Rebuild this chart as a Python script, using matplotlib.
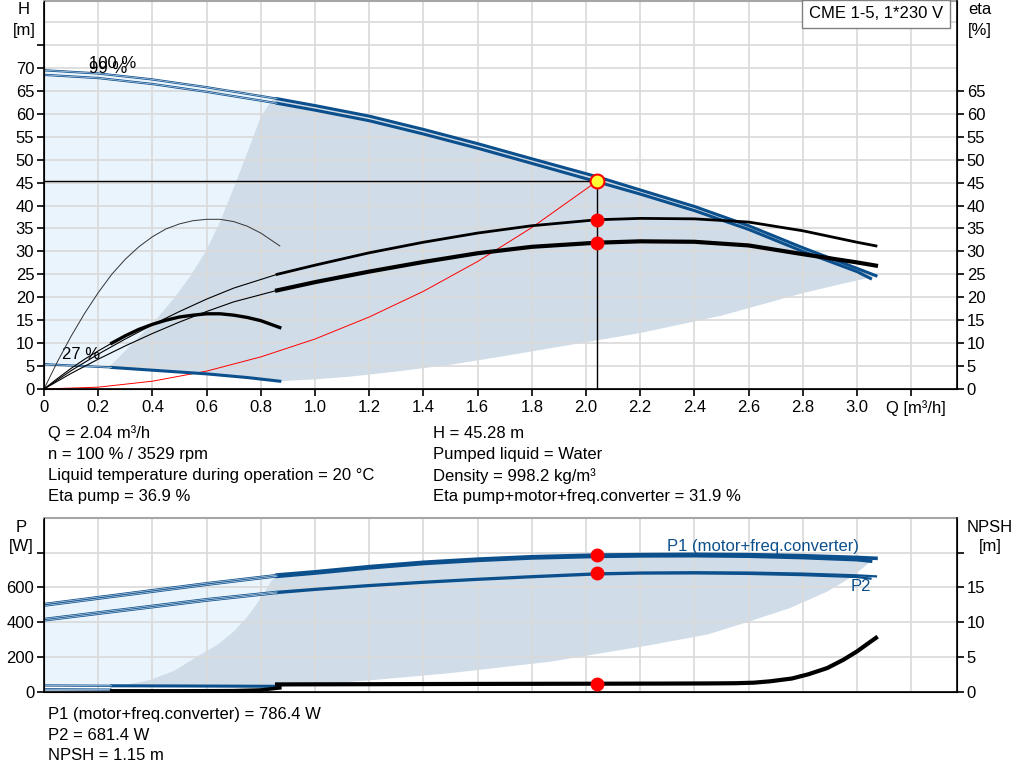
import matplotlib
matplotlib.use('Agg')
import matplotlib.pyplot as plt
import numpy as np

plt.rcParams['font.family'] = ['Liberation Sans', 'DejaVu Sans']
plt.rcParams['font.size'] = 12

# ---------------- data ----------------
# head curves, Q in m3/h, H in m
q_h = [0, 0.2, 0.4, 0.6, 0.86, 1.0, 1.2, 1.4, 1.6, 1.8, 2.04, 2.2, 2.4, 2.6, 2.8, 3.0, 3.07]
h_100 = [69.5, 68.8, 67.5, 65.8, 63.3, 61.8, 59.5, 56.6, 53.5, 50.2, 46.3, 43.4, 39.8, 35.6, 30.8, 26.3, 24.7]
h_99 = [68.5, 67.8, 66.5, 64.8, 62.3, 60.8, 58.5, 55.6, 52.5, 49.2, 45.2, 42.5, 38.9, 34.8, 30.0, 25.6, 24.1]
q_h27 = [0, 0.25, 0.4, 0.6, 0.75, 0.87]
h_27 = [5.4, 4.7, 4.1, 3.3, 2.5, 1.7]

# efficiency curves, %
q_eta = [0, 0.1, 0.2, 0.3, 0.4, 0.5, 0.6, 0.7, 0.86, 1.0, 1.2, 1.4, 1.6, 1.8, 2.04,
         2.2, 2.4, 2.6, 2.8, 3.0, 3.07]
eta_pump = [0, 4.0, 7.6, 10.9, 14.0, 16.9, 19.6, 22.0, 25.0, 27.0, 29.7, 32.0, 34.0, 35.6,
            36.9, 37.2, 37.1, 36.4, 34.5, 32.0, 31.2]
eta_total = [0, 3.4, 6.5, 9.4, 12.1, 14.6, 16.9, 19.0, 21.5, 23.3, 25.6, 27.7, 29.6, 31.0,
             31.9, 32.2, 32.1, 31.3, 29.4, 27.6, 26.9]
q_e27 = [0, 0.05, 0.1, 0.15, 0.2, 0.25, 0.3, 0.35, 0.4, 0.45, 0.5, 0.55, 0.6, 0.65, 0.7,
         0.75, 0.8, 0.87]
eta_pump_27 = [0, 6.0, 11.5, 16.5, 21.0, 25.0, 28.3, 31.0, 33.2, 34.9, 36.0, 36.7, 37.0,
               37.0, 36.5, 35.5, 34.0, 31.2]
q_et27 = [0, 0.05, 0.1, 0.15, 0.2, 0.25, 0.3, 0.35, 0.4, 0.45, 0.5, 0.55, 0.6, 0.65, 0.7,
          0.75, 0.8, 0.87]
eta_total_27 = [0, 2.3, 4.5, 6.5, 8.3, 10.0, 11.6, 13.0, 14.1, 15.0, 15.7, 16.1, 16.4, 16.4,
                16.1, 15.6, 14.9, 13.4]

# system curve
q_sys = [0, 0.2, 0.4, 0.6, 0.8, 1.0, 1.2, 1.4, 1.6, 1.8, 2.04]
h_sys = [0, 0.4, 1.7, 3.9, 7.0, 10.9, 15.7, 21.3, 27.8, 35.2, 45.28]

# operating range edges (head chart)
q_edge_left = [0.243, 0.30, 0.354, 0.416, 0.477, 0.54, 0.60, 0.65, 0.70, 0.75, 0.80, 0.845]
h_edge_left = [4.9, 8.3, 11.6, 15.3, 19.6, 24.6, 30.3, 36.5, 43.8, 51.5, 59.3, 63.4]
q_edge_low = [0.87, 1.0, 1.13, 1.3, 1.5, 1.68, 1.9, 2.2, 2.5, 2.8, 2.95, 3.05]
h_edge_low = [1.7, 2.1, 2.7, 3.8, 5.3, 7.0, 9.2, 12.2, 16.0, 20.9, 23.0, 24.3]

# power curves, W
p1_100 = [505, 545, 585, 625, 672, 690, 720, 745, 763, 777, 786.4, 789, 791, 789, 783, 773, 768]
p1_99 = [495, 535, 575, 615, 664, 683, 713, 738, 756, 770, 779, 782, 783, 780, 772, 760, 752]
p2_100 = [419, 457, 495, 533, 575, 592, 614, 633, 650, 665, 681.4, 686, 688, 686, 680, 670, 664]
p2_99 = [410, 448, 486, 524, 568, 586, 608, 627, 644, 659, 675, 680, 681, 678, 671, 660, 651]
q_p27 = [0, 0.25, 0.5, 0.87]
p1_27 = [36, 34, 33, 31]
p2_27 = [14, 12, 10, 8]

q_p_left = [0.243, 0.30, 0.39, 0.48, 0.576, 0.64, 0.70, 0.75, 0.80, 0.84, 0.86]
p_edge_left = [29, 38, 67, 120, 212, 270, 346, 430, 538, 640, 672]
q_p_low = [0.88, 1.2, 1.5, 1.87, 2.24, 2.45, 2.6, 2.75, 2.89, 2.98, 3.05]
p_edge_low = [29, 65, 107, 173, 269, 330, 403, 480, 576, 660, 748]

# NPSH, m
q_npsh = [0.86, 1.2, 1.6, 2.04, 2.3, 2.45, 2.55, 2.62, 2.68, 2.76, 2.82, 2.89, 2.95, 3.0,
          3.05, 3.07]
npsh = [1.05, 1.08, 1.12, 1.15, 1.17, 1.19, 1.22, 1.3, 1.5, 1.9, 2.5, 3.4, 4.6, 5.8, 7.2, 7.75]
q_npsh27 = [0.25, 0.5, 0.7, 0.8, 0.87]
npsh_27 = [0.12, 0.12, 0.15, 0.25, 0.55]

# duty point
q_op, h_op = 2.04, 45.28
eta_op_pump, eta_op_total = 36.9, 31.9
p1_op, p2_op, npsh_op = 786.4, 681.4, 1.15

x_ticks = [0, 0.2, 0.4, 0.6, 0.8, 1.0, 1.2, 1.4, 1.6, 1.8, 2.0, 2.2, 2.4, 2.6, 2.8, 3.0, 3.2]
x_labels = ['0', '0.2', '0.4', '0.6', '0.8', '1.0', '1.2', '1.4', '1.6', '1.8', '2.0',
            '2.2', '2.4', '2.6', '2.8', '3.0', '']

# ---------------- styling ----------------
BLUE = '#0b4f8c'
THIN_IN = '#c5d6e8'
LIGHT = '#eaf4fd'
DARK = '#d0dce8'
GRID = '#d9d9d9'
k = 4   # index of Q = 0.86 in q_h
ke = 8  # index of Q = 0.86 in q_eta
ke27 = 5  # index of Q = 0.25 in q_et27

fig = plt.figure(figsize=(10.24, 7.81), dpi=100)
ax = fig.add_axes([44 / 1024, 1 - 389 / 781, 913 / 1024, 388 / 781])
axe = ax.twinx()
bx = fig.add_axes([44 / 1024, 1 - 691.7 / 781, 913 / 1024, 173.7 / 781])
bxn = bx.twinx()

xmax = 3.369


def style(a, ar):
    a.set_xlim(0, xmax)
    a.set_xticks(x_ticks)
    a.grid(True, color=GRID, lw=1.2)
    for s in ['left', 'bottom']:
        a.spines[s].set_linewidth(1.2)
    ar.spines['right'].set_linewidth(1.2)
    a.spines['top'].set_color('#a6a6a6')
    a.spines['top'].set_linewidth(1.5)
    ar.spines['top'].set_visible(False)
    a.tick_params(axis='y', direction='out', length=5, width=1.2, labelsize=12, pad=2)
    ar.tick_params(axis='y', direction='out', length=5, width=1.2, labelsize=12, pad=2)


def thin(a, x, y):
    a.plot(x, y, color=BLUE, lw=1.6, solid_capstyle='butt', zorder=3)
    a.plot(x, y, color=THIN_IN, lw=0.5, zorder=3.1)


# ---------------- head / efficiency chart ----------------
style(ax, axe)
ylim_top = 84.6
ax.set_ylim(0, ylim_top)
axe.set_ylim(0, ylim_top)
ax.set_yticks(range(0, 80, 5))
ax.set_yticklabels([str(v) for v in range(0, 75, 5)] + [''])
axe.set_yticks(range(0, 70, 5))
ax.axhline(80, color=GRID, lw=1.2, zorder=1.5)
ax.set_xticklabels(x_labels)
ax.tick_params(axis='x', direction='out', length=5, width=1.2, labelsize=12, pad=3)

# operating areas
lx = np.concatenate([q_h[:k + 1], q_h27[::-1]])
ly = np.concatenate([h_100[:k + 1], h_27[::-1]])
ax.fill(lx, ly, color=LIGHT, lw=0, zorder=0.8)
dx = np.concatenate([q_edge_left, q_h[k:], q_edge_low[::-1], q_h27[1:][::-1]])
dy = np.concatenate([h_edge_left, h_100[k:], h_edge_low[::-1], h_27[1:][::-1]])
ax.fill(dx, dy, color=DARK, lw=0, zorder=0.9)

# head curves
q_h99 = q_h[:-1] + [3.05]
thin(ax, q_h[:k + 1], h_100[:k + 1])
thin(ax, q_h99[:k + 1], h_99[:k + 1])
ax.plot(q_h[k:], h_100[k:], color=BLUE, lw=2.2, zorder=3)
ax.plot(q_h99[k:], h_99[k:], color=BLUE, lw=2.2, zorder=3)
thin(ax, q_h27[:2], h_27[:2])
ax.plot(q_h27[1:], h_27[1:], color=BLUE, lw=2.2, zorder=3)

# efficiency curves
axe.plot(q_e27, eta_pump_27, color='#333333', lw=0.7)
axe.plot(q_et27[:ke27 + 1], eta_total_27[:ke27 + 1], color='black', lw=0.8)
axe.plot(q_et27[ke27:], eta_total_27[ke27:], color='black', lw=2.4)
axe.plot(q_eta[:ke + 1], eta_pump[:ke + 1], color='black', lw=0.8)
axe.plot(q_eta[ke:], eta_pump[ke:], color='black', lw=2.0)
axe.plot(q_eta[:ke + 1], eta_total[:ke + 1], color='black', lw=0.8)
axe.plot(q_eta[ke:], eta_total[ke:], color='black', lw=3.0)

# system curve and duty point
ax.plot(q_sys, h_sys, color='red', lw=0.7, zorder=2.5)
ax.plot([0, q_op], [h_op, h_op], color='black', lw=1.0, zorder=4)
ax.plot([q_op, q_op], [0, h_op], color='black', lw=1.0, zorder=4)
axe.plot([q_op, q_op], [eta_op_pump, eta_op_total], 'o', color='red', ms=9, zorder=5)
ax.plot(q_op, h_op, 'o', mfc='#ffff33', mec='red', mew=1.5, ms=10, zorder=6)

ax.text(0.165, 70.9, '100 %', ha='left', va='center', zorder=7)
ax.text(0.165, 69.8, '99 %', ha='left', va='center', zorder=7)
ax.text(0.065, 7.6, '27 %', ha='left', va='center', zorder=7)

fig.text(24 / 1024, 1 - 10 / 781, 'H', ha='center', va='center')
fig.text(24 / 1024, 1 - 30 / 781, '[m]', ha='center', va='center')
fig.text(980 / 1024, 1 - 10 / 781, 'eta', ha='center', va='center')
fig.text(980 / 1024, 1 - 30 / 781, '[%]', ha='center', va='center')
fig.text(886 / 1024, 1 - 408 / 781, 'Q [m³/h]', ha='left', va='center')
fig.text(876 / 1024, 1 - 14 / 781, 'CME 1-5, 1*230 V', ha='center', va='center',
         bbox=dict(boxstyle='square,pad=0.4', fc='white', ec='#808080', lw=1.0))

left_info = ['Q = 2.04 m³/h', 'n = 100 % / 3529 rpm',
             'Liquid temperature during operation = 20 °C', 'Eta pump = 36.9 %']
right_info = ['H = 45.28 m', 'Pumped liquid = Water', 'Density = 998.2 kg/m³',
              'Eta pump+motor+freq.converter = 31.9 %']
for i, (l, r) in enumerate(zip(left_info, right_info)):
    y = 1 - (433 + 21.3 * i) / 781
    fig.text(48 / 1024, y, l, ha='left', va='center')
    fig.text(433 / 1024, y, r, ha='left', va='center')

# ---------------- power / NPSH chart ----------------
style(bx, bxn)
bx.set_ylim(0, 1000)
bxn.set_ylim(0, 25)
bx.set_yticks([0, 200, 400, 600, 800])
bx.set_yticklabels(['0', '200', '400', '600', ''])
bxn.set_yticks([0, 5, 10, 15, 20])
bxn.set_yticklabels(['0', '5', '10', '15', ''])
bx.tick_params(axis='x', length=0, labelbottom=False)

lx = np.concatenate([q_h[:k + 1], q_p27[::-1]])
ly = np.concatenate([p1_100[:k + 1], p1_27[::-1]])
bx.fill(lx, ly, color=LIGHT, lw=0, zorder=0.8)
dx = np.concatenate([q_p_left, q_h[k:], q_p_low[::-1]])
dy = np.concatenate([p_edge_left, p1_100[k:], p_edge_low[::-1]])
bx.fill(dx, dy, color=DARK, lw=0, zorder=0.9)

for curve in (p1_100, p2_100):
    thin(bx, q_h[:k + 1], curve[:k + 1])
for curve in (p1_99, p2_99):
    thin(bx, q_h99[:k + 1], curve[:k + 1])
bx.plot(q_h[k:], p1_100[k:], color=BLUE, lw=2.6, zorder=3)
bx.plot(q_h99[k:], p1_99[k:], color=BLUE, lw=2.6, zorder=3)
bx.plot(q_h[k:], p2_100[k:], color=BLUE, lw=1.6, zorder=3)
bx.plot(q_h99[k:], p2_99[k:], color=BLUE, lw=1.6, zorder=3)
thin(bx, q_p27[:2], p1_27[:2])
thin(bx, q_p27[:2], p2_27[:2])
bx.plot(q_p27[1:], p1_27[1:], color=BLUE, lw=2.2, zorder=3)

bxn.plot(q_npsh27, npsh_27, color='black', lw=2.6)
bxn.plot(q_npsh, npsh, color='black', lw=3.0)

bx.plot([q_op, q_op], [p1_op, p2_op], 'o', color='red', ms=9, zorder=5)
bxn.plot(q_op, npsh_op, 'o', color='red', ms=9, zorder=5)

bx.text(2.30, 836, 'P1 (motor+freq.converter)', color=BLUE, ha='left', va='center', zorder=7)
bx.text(2.975, 605, 'P2', color=BLUE, ha='left', va='center', zorder=7)

fig.text(21 / 1024, 1 - 528 / 781, 'P', ha='center', va='center')
fig.text(21 / 1024, 1 - 547 / 781, '[W]', ha='center', va='center')
fig.text(990 / 1024, 1 - 528 / 781, 'NPSH', ha='center', va='center')
fig.text(990 / 1024, 1 - 547 / 781, '[m]', ha='center', va='center')

bottom_info = ['P1 (motor+freq.converter) = 786.4 W', 'P2 = 681.4 W', 'NPSH = 1.15 m']
for i, s in enumerate(bottom_info):
    fig.text(48 / 1024, 1 - (714 + 21 * i) / 781, s, ha='left', va='center')

fig.savefig('out.png', dpi=100)
